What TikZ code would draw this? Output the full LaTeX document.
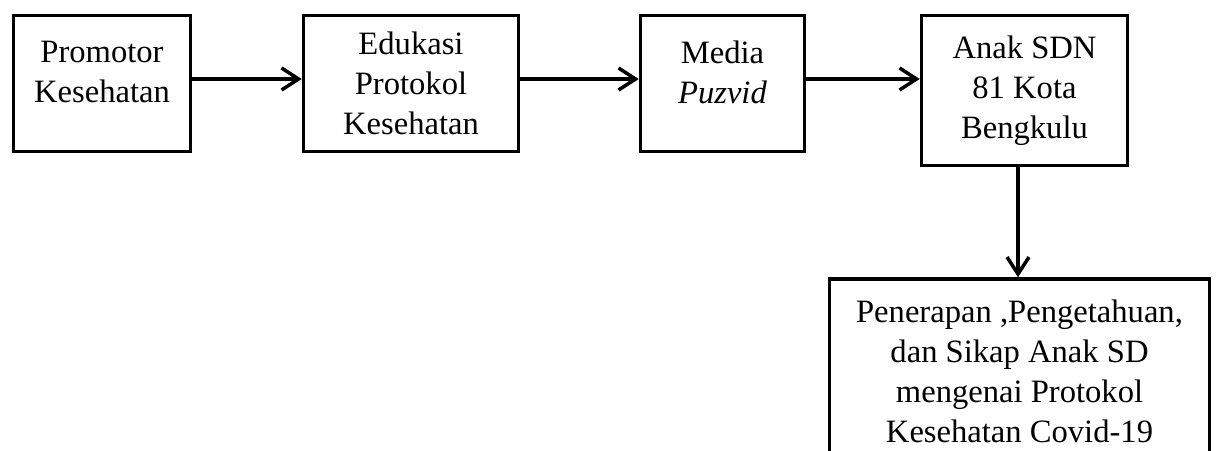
\documentclass[tikz,border=0pt]{standalone}
\usepackage{fontspec}
\setmainfont{Liberation Serif}
\usetikzlibrary{arrows.meta}
\begin{document}
\begin{tikzpicture}[x=0.5pt,y=-0.5pt,
    kotak/.style={draw,line width=1.75pt,align=center,inner sep=0pt,
      font=\fontsize{16.3}{20}\selectfont},
    duabaris/.style={text depth=11.5pt},
    panah/.style={line width=1.75pt,-{Straight Barb[length=8.5pt,width=11pt]}}]
    \useasboundingbox (0,0) rectangle (1221,450);
    \clip (0,0) rectangle (1221,450);
    \coordinate (row) at (0,79);
    \coordinate (col) at (1018,0);
    \node[kotak,duabaris,minimum width=88.5pt,minimum height=68pt] (promotor) at (102,83.5) {Promotor\\Kesehatan};
    \node[kotak,minimum width=107.5pt,minimum height=68pt] (edukasi) at (411,83.5) {Edukasi\\Protokol\\Kesehatan};
    \node[kotak,duabaris,minimum width=82pt,minimum height=68pt] (media) at (722.5,83.5) {Media\\\textit{Puzvid}};
    \node[kotak,minimum width=103pt,minimum height=75pt] (anak) at (1024.5,90.5) {Anak SDN\\81 Kota\\Bengkulu};
    \node[kotak,minimum width=190pt,minimum height=92pt] (hasil) at (1019.5,371) {Penerapan ,Pengetahuan,\\dan Sikap Anak SD\\mengenai Protokol\\Kesehatan Covid-19};
    \draw[panah] (promotor.east |- row) -- (edukasi.west |- row);
    \draw[panah] (edukasi.east |- row) -- (media.west |- row);
    \draw[panah] (media.east |- row) -- (anak.west |- row);
    \draw[panah] (anak.south -| col) -- (hasil.north -| col);
\end{tikzpicture}
\end{document}
